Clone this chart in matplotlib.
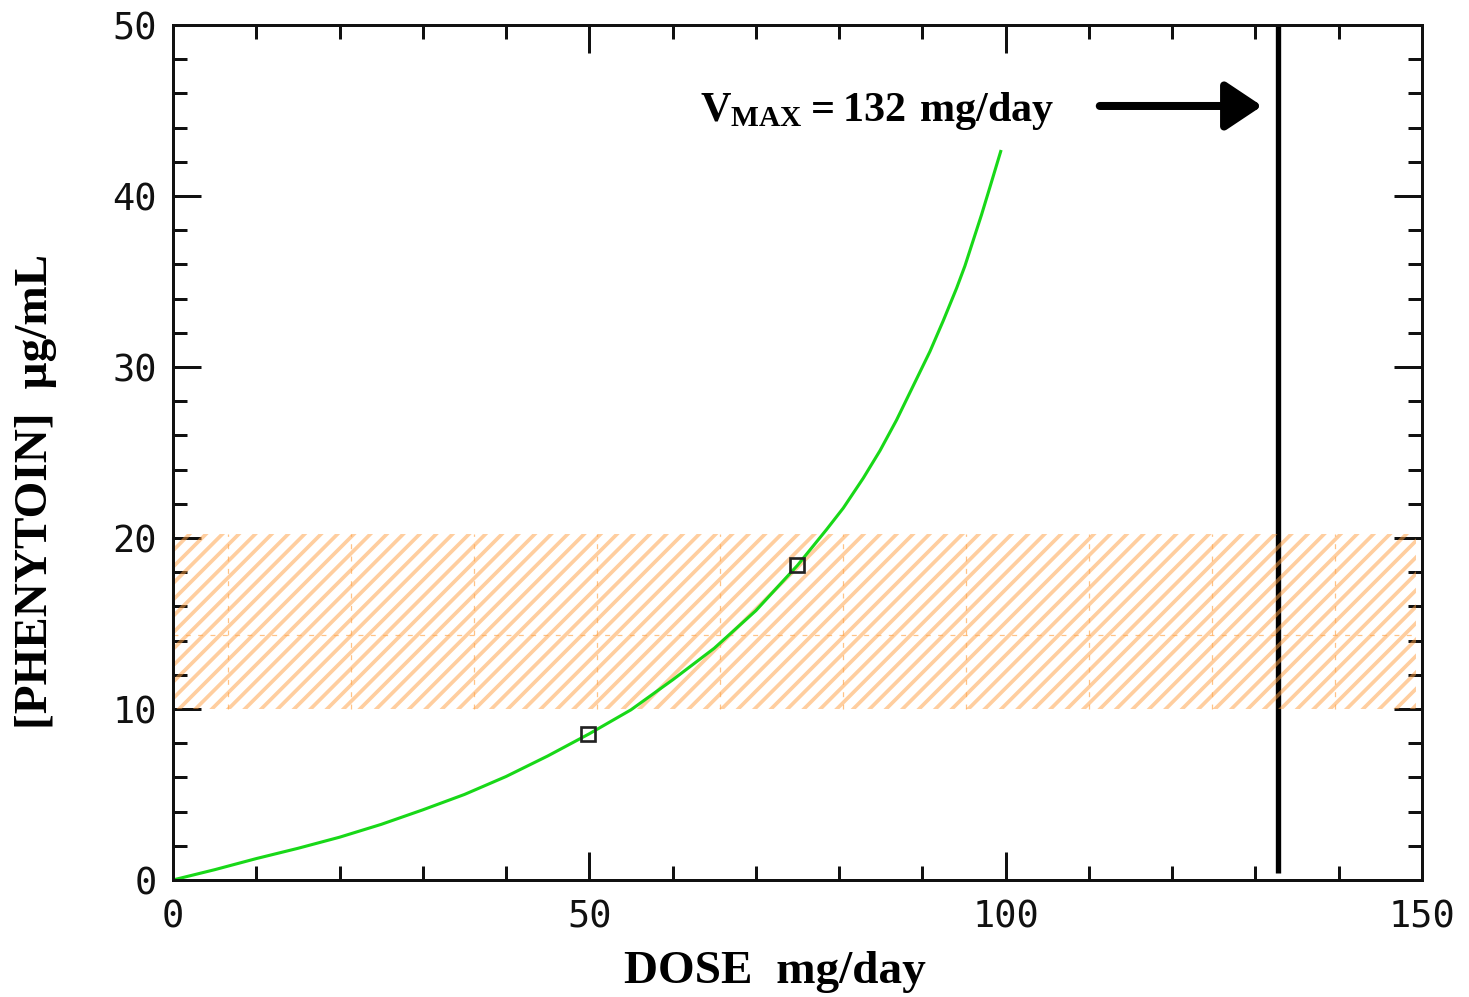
import numpy as np
import matplotlib
matplotlib.use("Agg")
import matplotlib.pyplot as plt
from matplotlib.ticker import MultipleLocator

# curve (dose mg/day -> phenytoin ug/mL)
dose = [0, 5, 10, 15, 20, 25, 30, 35, 40, 45, 50, 55, 60, 65, 70, 75, 78.5,
        80.5, 82.9, 84.9, 86.9, 88.9, 90.9, 92.5, 94.1, 95.1, 96.1, 97.1,
        98.1, 99.4]
conc = [0, 0.6, 1.25, 1.85, 2.5, 3.25, 4.1, 5.0, 6.05, 7.25, 8.55, 9.95,
        11.7, 13.55, 15.75, 18.4, 20.5, 21.75, 23.5, 25.1, 26.9, 28.9, 30.9,
        32.7, 34.6, 35.9, 37.4, 38.9, 40.5, 42.6]

# measured points
meas_dose = [49.8, 74.9]
meas_conc = [8.55, 18.4]

# therapeutic range
range_lo = 10
range_hi = 20.25
range_end = 149.3

vmax_x = 132.7
vmax_label = r"$\mathbf{V_{MAX}= 132\ mg/day}$"

DPI = 148
plt.rcParams["mathtext.fontset"] = "custom"
plt.rcParams["mathtext.bf"] = "Liberation Serif:bold"
plt.rcParams["mathtext.rm"] = "Liberation Serif"
plt.rcParams["hatch.linewidth"] = 1.8

fig = plt.figure(figsize=(1469 / DPI, 997 / DPI), dpi=DPI)
ax = fig.add_axes([0.1178, 0.1174, 0.8502, 0.8576])

ax.set_xlim(0, 150)
ax.set_ylim(0, 50)

# Vmax line (under the band)
ax.plot([vmax_x, vmax_x], [0.4, 50], color="black", lw=2.6, zorder=2,
        solid_capstyle="butt")

# hatched therapeutic band
ax.fill_between([0, range_end], range_lo, range_hi, facecolor="none",
                edgecolor=(1.0, 0.62, 0.25, 0.5), hatch="///", linewidth=0,
                zorder=2.5)
# faint tile seams inside the band
seams = np.arange(6.6, range_end, 14.77)
ax.vlines(seams, range_lo, range_hi, colors="#FFA850", lw=0.6,
          linestyles=(0, (4, 6)), alpha=0.7, zorder=2.6)
ax.hlines(14.3, 0, range_end, colors="#FFA850", lw=0.6,
          linestyles=(0, (4, 6)), alpha=0.7, zorder=2.6)

# curve and measured points
ax.plot(dose, conc, color="#18D818", lw=1.5, zorder=3)
ax.plot(meas_dose, meas_conc, ls="none", marker="s", ms=7, mew=1.3,
        mfc="none", mec="#222222", zorder=4)

# label and arrow
ax.text(63.3, 44.4, vmax_label, fontsize=20.5, ha="left", va="baseline",
        zorder=5)
ax.annotate("", xy=(130.8, 45.26), xytext=(111.3, 45.26),
            arrowprops=dict(arrowstyle="-|>,head_length=0.75,head_width=0.5",
                            lw=3.9, color="black", mutation_scale=20,
                            shrinkA=0, shrinkB=0), zorder=5)

# ticks
ax.xaxis.set_major_locator(MultipleLocator(50))
ax.xaxis.set_minor_locator(MultipleLocator(10))
ax.yaxis.set_major_locator(MultipleLocator(10))
ax.yaxis.set_minor_locator(MultipleLocator(2))
ax.tick_params(which="both", direction="in", top=True, right=True,
               width=1.46, colors="#111111")
ax.tick_params(which="major", length=13.6)
ax.tick_params(which="minor", length=7.0)
ax.tick_params(axis="y", which="major", pad=7.8)
ax.tick_params(axis="x", which="major", pad=9)
for lab in ax.get_xticklabels() + ax.get_yticklabels():
    lab.set_fontfamily("DejaVu Sans Mono")
    lab.set_fontsize(18)
    lab.set_color("#111111")

for sp in ax.spines.values():
    sp.set_linewidth(1.46)
    sp.set_color("#111111")
    sp.set_zorder(6)

ax.set_xlabel("DOSE  mg/day", fontfamily="Liberation Serif",
              fontweight="bold", fontsize=23, va="center")
ax.set_ylabel("[PHENYTOIN]  \u00b5g/mL", fontfamily="Liberation Serif",
              fontweight="bold", fontsize=23, va="center")
ax.xaxis.set_label_coords(0.482, -0.108)
ax.yaxis.set_label_coords(-0.11, 0.454)

fig.savefig("out.png", dpi=DPI)
